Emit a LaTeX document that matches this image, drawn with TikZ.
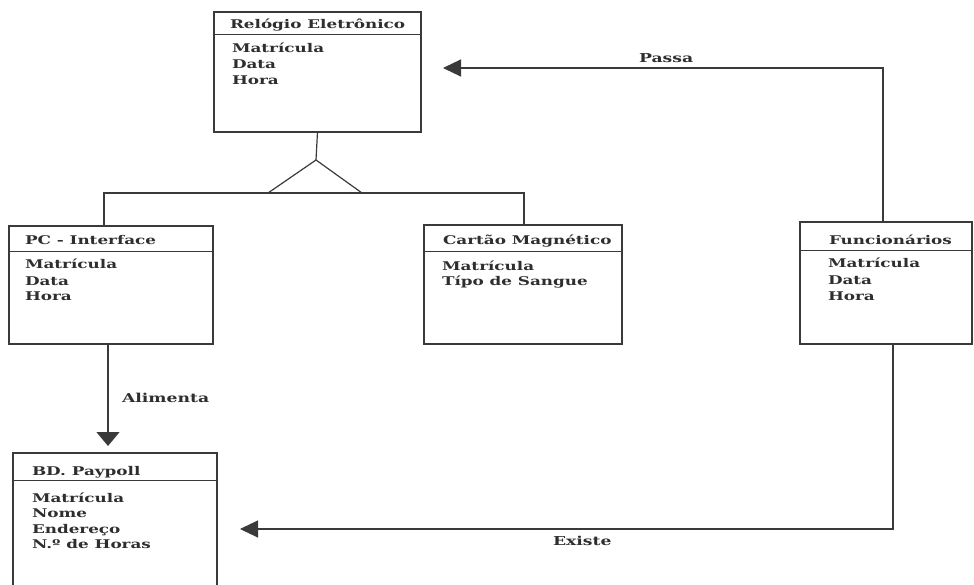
\documentclass[tikz,border=0pt]{standalone}
\usepackage{fontspec}
\setmainfont{DejaVu Serif}[FakeStretch=1.4]
\usetikzlibrary{arrows.meta,calc}
\definecolor{ink}{HTML}{3A3A3A}
\definecolor{txt}{HTML}{2E2E2E}
\begin{document}
\begin{tikzpicture}[x=1pt,y=-1pt,
  every node/.style={inner sep=0pt, outer sep=0pt},
  classbox/.style={draw=ink, line width=1.3pt, anchor=north west},
  sepline/.style={draw=ink, line width=1pt},
  txtstyle/.style={anchor=base west, text=txt, font=\bfseries\fontsize{12}{14}\selectfont},
  lbl/.style={anchor=base west, text=txt, font=\bfseries\fontsize{12.3}{14}\selectfont},
  link/.style={draw=ink, line width=1.2pt},
  flow/.style={link, -{Triangle[length=18pt,width=17pt]}},
]
\useasboundingbox (0,0) rectangle (974,585);
\clip (0,0) rectangle (974,585);

% class boxes
\node[classbox, minimum width=207pt, minimum height=120pt] (rel) at (214,12) {};
\node[classbox, minimum width=204pt, minimum height=118pt] (pc)  at (9,226) {};
\node[classbox, minimum width=198pt, minimum height=119pt] (cm)  at (424,225) {};
\node[classbox, minimum width=172pt, minimum height=122pt] (fu)  at (800,222) {};
\node[classbox, minimum width=204pt, minimum height=140pt] (bd)  at (13,453) {};

% header separators
\draw[sepline] ($(rel.north west)+(0,23)$) -- ($(rel.north east)+(0,23)$);
\draw[sepline] ($(pc.north west)+(0,26)$) -- ($(pc.north east)+(0,26)$);
\draw[sepline] ($(cm.north west)+(0,27)$) -- ($(cm.north east)+(0,27)$);
\draw[sepline] ($(fu.north west)+(0,29)$) -- ($(fu.north east)+(0,29)$);
\draw[sepline] ($(bd.north west)+(0,27)$) -- ($(bd.north east)+(0,27)$);

% titles
\node[txtstyle] (rel-t) at (230,29) {Relógio Eletrônico};
\node[txtstyle] (pc-t)  at (25,245) {PC - Interface};
\node[txtstyle] (cm-t)  at (443,245) {Cartão Magnético};
\node[txtstyle] (fu-t)  at (829,245) {Funcionários};
\node[txtstyle] (bd-t)  at (32,475) {BD. Paypoll};

% attributes
\foreach \t [count=\i] in {Matrícula, Data, Hora}
  \node[txtstyle] (rel-a\i) at (232,{53+16*(\i-1)}) {\t};
\foreach \t [count=\i] in {Matrícula, Data, Hora}
  \node[txtstyle] (pc-a\i) at (25,{269+16*(\i-1)}) {\t};
\foreach \t [count=\i] in {Matrícula, Típo de Sangue}
  \node[txtstyle] (cm-a\i) at (442,{270+16*(\i-1)}) {\t};
\foreach \t [count=\i] in {Matrícula, Data, Hora}
  \node[txtstyle] (fu-a\i) at (828,{268+16*(\i-1)}) {\t};
\foreach \t [count=\i] in {Matrícula, Nome, Endereço, N.º de Horas}
  \node[txtstyle] (bd-a\i) at (32,{502+15.5*(\i-1)}) {\t};

% generalization
\coordinate (apex) at (316,160);
\coordinate (bar) at (316,193);
\draw[link] (rel.south) -- (apex);
\draw[link] ([xshift=-7pt]pc.north) |- (bar) -| ([xshift=1pt]cm.north);
\draw[link] ($(bar)+(-48,0)$) -- (apex) -- ($(bar)+(46,0)$);

% associations
\coordinate (passaEnd) at (443,68);
\draw[flow] ([xshift=-3pt]fu.north) |- (passaEnd);
\node[lbl] (passa) at (639,63) {Passa};

\draw[link, -{Triangle[length=14pt,width=23pt]}, shorten >=7pt]
  ([xshift=-3pt]pc.south) -- ([xshift=-3pt]pc.south |- bd.north);
\node[lbl] (alimenta) at (122,402) {Alimenta};

\draw[flow, shorten >=23pt] ([xshift=7pt]fu.south) |- ([yshift=-6pt]bd.east);
\node[lbl] (existe) at (553,545) {Existe};
\end{tikzpicture}
\end{document}
